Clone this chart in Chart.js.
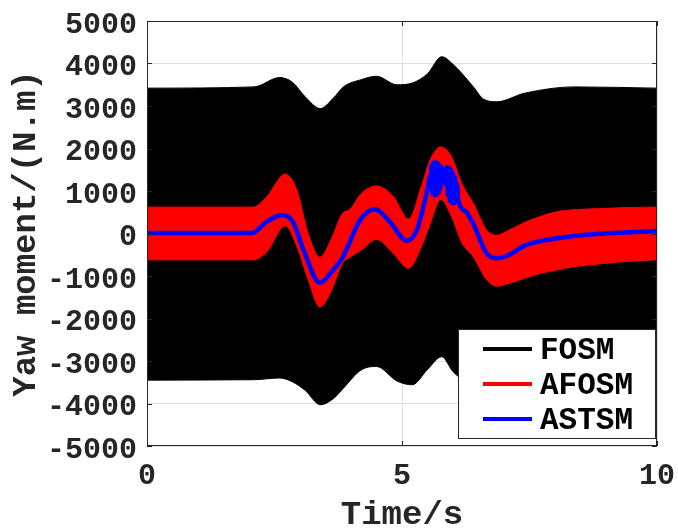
<!DOCTYPE html>
<html>
<head>
<meta charset="utf-8">
<script src="https://cdn.jsdelivr.net/npm/chart.js@4.4.1/dist/chart.umd.min.js"></script>
<style>
    html, body { margin: 0; padding: 0; background: #fff; }
    #wrap { width: 678px; height: 532px; }
</style>
</head>
<body>
<div id="wrap"><canvas id="chartYaw" width="678" height="532"></canvas></div>
<script>
// values
const xTicks = [0, 5, 10];
const yTicks = [-5000, -4000, -3000, -2000, -1000, 0, 1000, 2000, 3000, 4000, 5000];

const seriesNames = ['FOSM', 'AFOSM', 'ASTSM'];
const seriesColors = ['#000000', '#ff0000', '#0000ff'];

// FOSM: envelope of the high-frequency oscillation
const fosmTime = [0, 2.1, 2.6, 2.85, 3.1, 3.4, 3.65, 3.85, 4.2, 4.5, 4.9, 5.2, 5.5, 5.78, 6.0, 6.4, 6.6, 6.86, 7.4, 8.4, 10];
const fosmUpper = [3420, 3450, 3670, 3560, 3220, 2940, 3180, 3450, 3620, 3700, 3500, 3540, 3760, 4160, 3980, 3450, 3160, 3100, 3300, 3450, 3420];
const fosmLower = [-3450, -3440, -3400, -3490, -3690, -4030, -3890, -3640, -3210, -3130, -3470, -3560, -3200, -2900, -3250, -3590, -3690, -3670, -3540, -3450, -3400];

// AFOSM: envelope of the oscillation band
const afosmTime = [0, 2.08, 2.35, 2.71, 2.94, 3.16, 3.39, 3.62, 3.83, 3.98, 4.2, 4.5, 4.83, 5.13, 5.38, 5.55, 5.76, 5.97, 6.18, 6.4, 6.66, 6.86, 7.08, 7.44, 7.71, 8.03, 8.37, 9.0, 9.35, 10];
const afosmUpper = [620, 620, 870, 1400, 1020, 0, -560, -110, 470, 570, 940, 1120, 870, 340, 1110, 1730, 2040, 1810, 1160, 710, 80, -40, 70, 280, 400, 510, 560, 590, 610, 620];
const afosmLower = [-620, -620, -430, 180, -310, -1090, -1730, -1330, -710, -560, -390, -140, -470, -820, -310, 220, 800, 400, -230, -550, -1090, -1240, -1180, -1040, -940, -860, -780, -700, -660, -620];

// ASTSM: smooth line with chattering around 5.6-6.1 s
const astsmTime = [0, 2.05, 2.35, 2.64, 2.86, 3.07, 3.39, 3.62, 3.84, 4.18, 4.47, 4.76, 5.09, 5.29, 5.48, 5.52,
    5.55, 5.56, 5.58, 5.60, 5.62, 5.64, 5.66, 5.68, 5.70, 5.72, 5.74, 5.76, 5.78, 5.80,
    5.84, 5.86, 5.88, 5.90, 5.92, 5.94, 5.96, 5.98, 6.00, 6.02, 6.04, 6.06, 6.08, 6.10,
    6.25, 6.4, 6.66, 6.86, 7.05, 7.44, 8.37, 10];
const astsm = [10, 10, 280, 430, 280, -390, -1160, -900, -550, 320, 570, 280, -170, 80, 940, 1160,
    1360, 1060, 1600, 930, 1670, 900, 1680, 910, 1650, 960, 1600, 1060, 1560, 1210,
    1510, 1160, 1560, 910, 1550, 760, 1510, 720, 1410, 710, 1310, 760, 1160, 810,
    520, 220, -470, -580, -530, -270, -60, 60];

const FONT = "'Liberation Mono', 'DejaVu Sans Mono', monospace";
const TEXT = '#262626';

function toPoints(xs, ys) {
    return xs.map((x, i) => ({ x, y: ys[i] }));
}

function bandDataset(xs, ys, color, fillTarget, order) {
    return {
        data: toPoints(xs, ys),
        borderColor: color,
        backgroundColor: color,
        borderWidth: 1,
        pointRadius: 0,
        cubicInterpolationMode: 'monotone',
        fill: fillTarget,
        order,
    };
}

// axes box, inward ticks and the legend, MATLAB style
const framePlugin = {
    id: 'frame',
    afterDraw(chart) {
        const { ctx, chartArea: a, scales } = chart;
        ctx.save();
        ctx.strokeStyle = TEXT;
        ctx.lineWidth = 1;
        ctx.strokeRect(a.left + 0.5, a.top + 0.5, a.right - a.left - 1, a.bottom - a.top - 1);
        ctx.beginPath();
        yTicks.forEach((v) => {
            const y = Math.round(scales.y.getPixelForValue(v)) + 0.5;
            ctx.moveTo(a.left, y); ctx.lineTo(a.left + 5, y);
            ctx.moveTo(a.right, y); ctx.lineTo(a.right - 5, y);
        });
        xTicks.forEach((v) => {
            const x = Math.round(scales.x.getPixelForValue(v)) + 0.5;
            ctx.moveTo(x, a.bottom); ctx.lineTo(x, a.bottom - 5);
            ctx.moveTo(x, a.top); ctx.lineTo(x, a.top + 5);
        });
        ctx.stroke();

        // legend box
        const box = { x: 458, y: 329, w: 197, h: 109 };
        ctx.fillStyle = '#fff';
        ctx.fillRect(box.x, box.y, box.w, box.h);
        ctx.strokeStyle = TEXT;
        ctx.strokeRect(box.x + 0.5, box.y + 0.5, box.w, box.h);
        ctx.font = `bold 31px ${FONT}`;
        ctx.textBaseline = 'middle';
        ctx.textAlign = 'left';
        seriesNames.forEach((name, i) => {
            const y = box.y + 20 + i * 35;
            ctx.strokeStyle = seriesColors[i];
            ctx.lineWidth = 4;
            ctx.beginPath();
            ctx.moveTo(483, y);
            ctx.lineTo(532, y);
            ctx.stroke();
            ctx.fillStyle = '#000';
            ctx.fillText(name, 540, y + 2);
        });
        ctx.restore();
    },
};

new Chart(document.getElementById('chartYaw').getContext('2d'), {
    type: 'line',
    data: {
        datasets: [
            bandDataset(fosmTime, fosmUpper, seriesColors[0], 1, 3),
            bandDataset(fosmTime, fosmLower, seriesColors[0], false, 3),
            bandDataset(afosmTime, afosmUpper, seriesColors[1], 3, 2),
            bandDataset(afosmTime, afosmLower, seriesColors[1], false, 2),
            {
                data: toPoints(astsmTime, astsm),
                borderColor: seriesColors[2],
                borderWidth: 4.5,
                pointRadius: 0,
                cubicInterpolationMode: 'monotone',
                fill: false,
                order: 1,
            },
        ],
    },
    options: {
        responsive: false,
        animation: false,
        devicePixelRatio: 1,
        layout: { padding: { top: 21, right: 21, left: 0, bottom: 0 } },
        plugins: {
            legend: { display: false },
            tooltip: { enabled: false },
        },
        scales: {
            x: {
                type: 'linear',
                min: 0,
                max: 10,
                afterBuildTicks: (s) => { s.ticks = xTicks.map((value) => ({ value })); },
                afterFit: (s) => {
                    s.height = 86;
                    s.paddingLeft = 0;
                    s.paddingRight = 0;
                },
                grid: { color: '#e0e0e0', drawTicks: false },
                border: { display: false },
                ticks: {
                    color: TEXT,
                    padding: 12,
                    maxRotation: 0,
                    callback: (v) => String(v),
                    font: { family: FONT, size: 30, weight: 'bold' },
                },
                title: {
                    display: true,
                    text: 'Time/s',
                    color: TEXT,
                    padding: { top: 0, bottom: 0 },
                    font: { family: FONT, size: 34, weight: 'bold', lineHeight: 1.0 },
                },
            },
            y: {
                min: -5000,
                max: 5000,
                afterBuildTicks: (s) => { s.ticks = yTicks.map((value) => ({ value })); },
                afterFit: (s) => {
                    s.width = 147;
                    s.paddingTop = 0;
                    s.paddingBottom = 0;
                },
                grid: { color: '#e0e0e0', drawTicks: false },
                border: { display: false },
                ticks: {
                    color: TEXT,
                    padding: 10,
                    labelOffset: 4,
                    callback: (v) => String(v),
                    font: { family: FONT, size: 30, weight: 'bold' },
                },
                title: {
                    display: true,
                    text: 'Yaw moment/(N.m)',
                    color: TEXT,
                    padding: { top: 9, bottom: 0 },
                    font: { family: FONT, size: 34, weight: 'bold', lineHeight: 1.0 },
                },
            },
        },
    },
    plugins: [framePlugin],
});
</script>
</body>
</html>
